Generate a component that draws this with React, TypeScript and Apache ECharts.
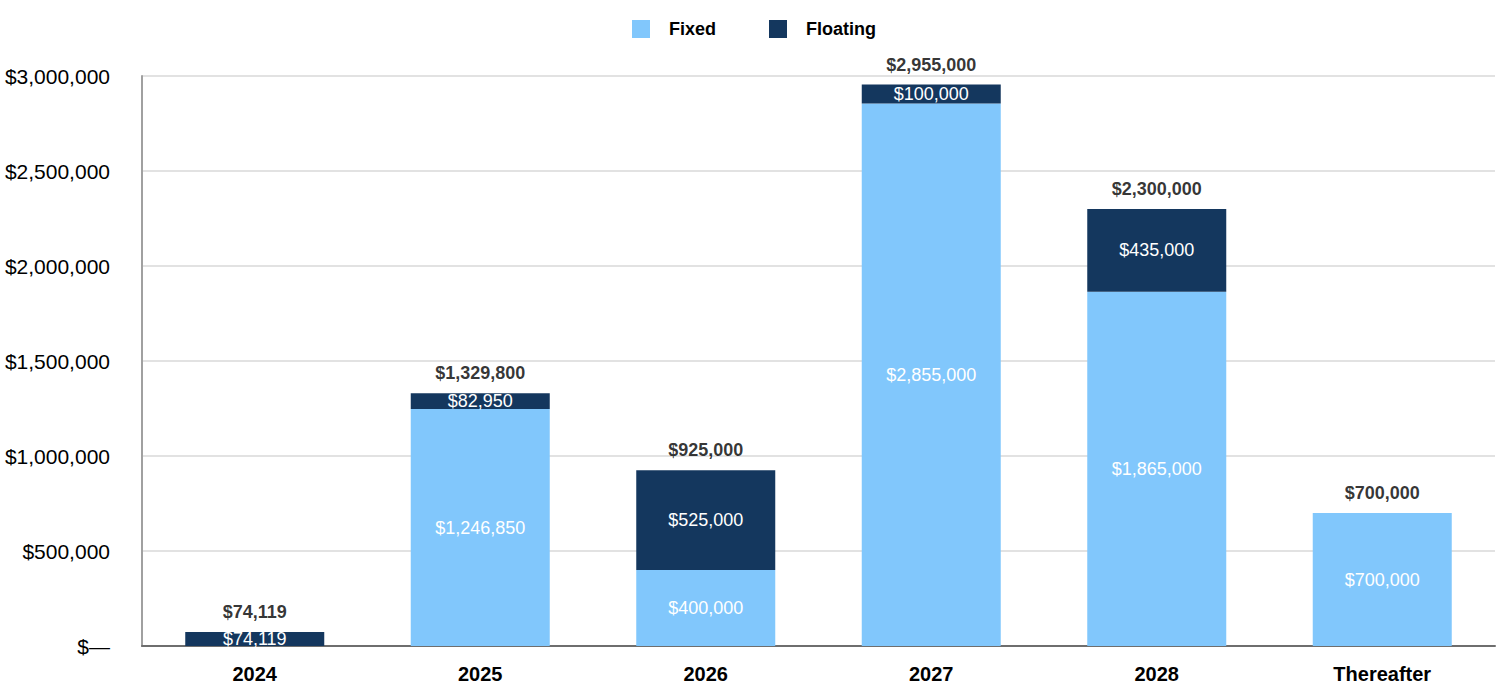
import React, { useEffect, useRef } from "react";
import * as echarts from "echarts";

const categories = ["2024", "2025", "2026", "2027", "2028", "Thereafter"];
const fixedValues = [0, 1246850, 400000, 2855000, 1865000, 700000];
const floatingValues = [74119, 82950, 525000, 100000, 435000, 0];
const totalValues = [74119, 1329800, 925000, 2955000, 2300000, 700000];

const FONT = "'Liberation Sans', Arial, sans-serif";

const money = (v: number) =>
  v === 0 ? "$—" : "$" + Math.round(v).toLocaleString("en-US");

export default function App() {
  const ref = useRef<HTMLDivElement>(null);
  useEffect(() => {
    document.body.style.margin = "0";
    const chart = echarts.init(ref.current!, null, { renderer: "svg" });
    const innerLabel = {
      show: true,
      position: "inside",
      color: "#ffffff",
      fontSize: 18,
      fontFamily: FONT,
      formatter: (p: any) => (p.value ? money(p.value) : ""),
    };
    chart.setOption({
      animation: false,
      backgroundColor: "#ffffff",
      legend: {
        data: ["Fixed", "Floating"],
        top: 15,
        left: 627,
        itemWidth: 18,
        itemHeight: 18,
        itemGap: 53,
        icon: "rect",
        textStyle: {
          fontSize: 18,
          fontWeight: "bold",
          fontFamily: FONT,
          color: "#000",
          padding: [0, 0, 0, 14],
        },
      },
      grid: { left: 142, right: 5, top: 76, bottom: 44, containLabel: false },
      xAxis: {
        type: "category",
        data: categories,
        axisLine: { show: true, lineStyle: { color: "#6e6e6e", width: 2 } },
        axisTick: { show: false },
        axisLabel: {
          fontSize: 20,
          fontWeight: "bold",
          fontFamily: FONT,
          color: "#000",
          margin: 18,
        },
      },
      yAxis: {
        type: "value",
        min: 0,
        max: 3000000,
        interval: 500000,
        axisLine: { show: true, lineStyle: { color: "#a0a0a0", width: 2 } },
        axisTick: { show: false },
        splitLine: { lineStyle: { color: "#e2e2e2", width: 2 } },
        axisLabel: {
          fontSize: 21,
          fontFamily: FONT,
          color: "#000",
          margin: 32,
          formatter: (v: number) => money(v),
        },
      },
      series: [
        {
          name: "Fixed",
          type: "bar",
          stack: "debt",
          barWidth: 139,
          data: fixedValues,
          itemStyle: { color: "#81C7FC" },
          label: innerLabel,
        },
        {
          name: "Floating",
          type: "bar",
          stack: "debt",
          barWidth: 139,
          data: floatingValues,
          itemStyle: { color: "#14375E" },
          label: innerLabel,
        },
        {
          name: "Total",
          type: "scatter",
          data: totalValues,
          symbolSize: 0,
          silent: true,
          label: {
            show: true,
            position: "top",
            distance: 11,
            color: "#000",
            fontSize: 18,
            fontWeight: "bold",
            fontFamily: FONT,
            textBorderWidth: 0,
            formatter: (p: any) => money(p.value),
          },
        },
      ],
    });
    return () => chart.dispose();
  }, []);
  return (
    <div
      ref={ref}
      style={{ position: "absolute", left: 0, top: 0, width: 1500, height: 690 }}
    />
  );
}
